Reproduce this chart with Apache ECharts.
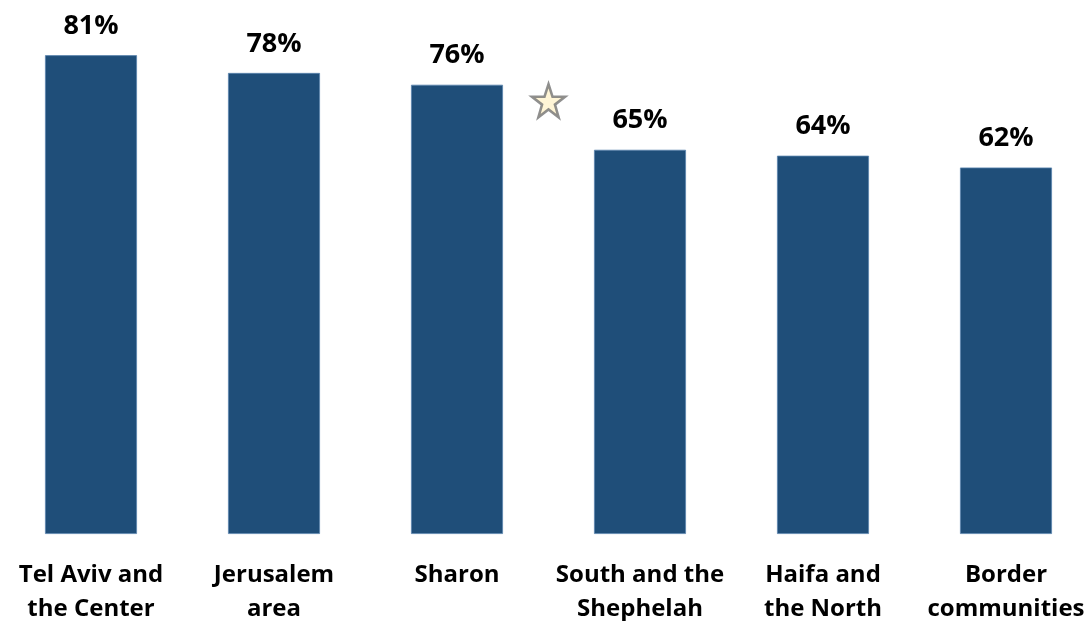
<!DOCTYPE html>
<html>
<head>
<meta charset="utf-8">
<script src="https://cdn.jsdelivr.net/npm/echarts@6/dist/echarts.min.js"></script>
<style>
  html, body { margin: 0; padding: 0; background: #ffffff; }
  #chart { width: 1089px; height: 621px; }
</style>
</head>
<body>
<div id="chart"></div>
<script>
// Regions and their share (%)
const regions = [
  'Tel Aviv and\nthe Center',
  'Jerusalem\narea',
  'Sharon',
  'South and the\nShephelah',
  'Haifa and\nthe North',
  'Border\ncommunities'
];
const shares = [81, 78, 76, 65, 64, 62];

// Star marker placed between "Sharon" and "South and the Shephelah"
// (x on a 0..6 helper axis, y in %)
const starPoint = [[3, 73.3]];

const STAR_PATH = 'path://M50,0 L61.8,35.1 L98.1,35.1 L68.8,56.8 L79.4,91.9 L50,70.3 L20.6,91.9 L31.2,56.8 L1.9,35.1 L38.2,35.1 Z';
const FONT = '"Open Sans", Lato, sans-serif';

const chart = echarts.init(document.getElementById('chart'), null, { renderer: 'canvas' });

chart.setOption({
  animation: false,
  backgroundColor: '#ffffff',
  grid: {
    left: -0.5,
    right: -8.5,
    top: 2,
    bottom: 87,
    outerBoundsMode: 'none',
    containLabel: false
  },
  xAxis: [
    {
      type: 'category',
      data: regions,
      axisLine: { show: false },
      axisTick: { show: false },
      axisLabel: {
        interval: 0,
        margin: 24,
        color: '#000000',
        fontFamily: FONT,
        fontWeight: 'bold',
        fontSize: 24,
        lineHeight: 34
      }
    },
    {
      type: 'value',
      min: 0,
      max: 6,
      show: false
    }
  ],
  yAxis: {
    type: 'value',
    min: 0,
    max: 90,
    show: false,
    splitLine: { show: false }
  },
  series: [
    {
      type: 'bar',
      data: shares,
      xAxisIndex: 0,
      barWidth: 92,
      itemStyle: {
        color: '#1F4E79',
        borderColor: '#5B84AE',
        borderWidth: 0.8
      },
      label: {
        show: true,
        position: 'top',
        distance: 14,
        formatter: '{c}%',
        color: '#000000',
        fontFamily: FONT,
        fontWeight: 'bold',
        fontSize: 27,
        lineHeight: 30
      }
    },
    {
      type: 'scatter',
      xAxisIndex: 1,
      data: starPoint,
      symbol: STAR_PATH,
      symbolSize: [33, 33],
      itemStyle: {
        color: '#FFF2CC',
        borderColor: '#737373',
        borderWidth: 2.6
      },
      label: { show: false }
    }
  ]
});
</script>
</body>
</html>
